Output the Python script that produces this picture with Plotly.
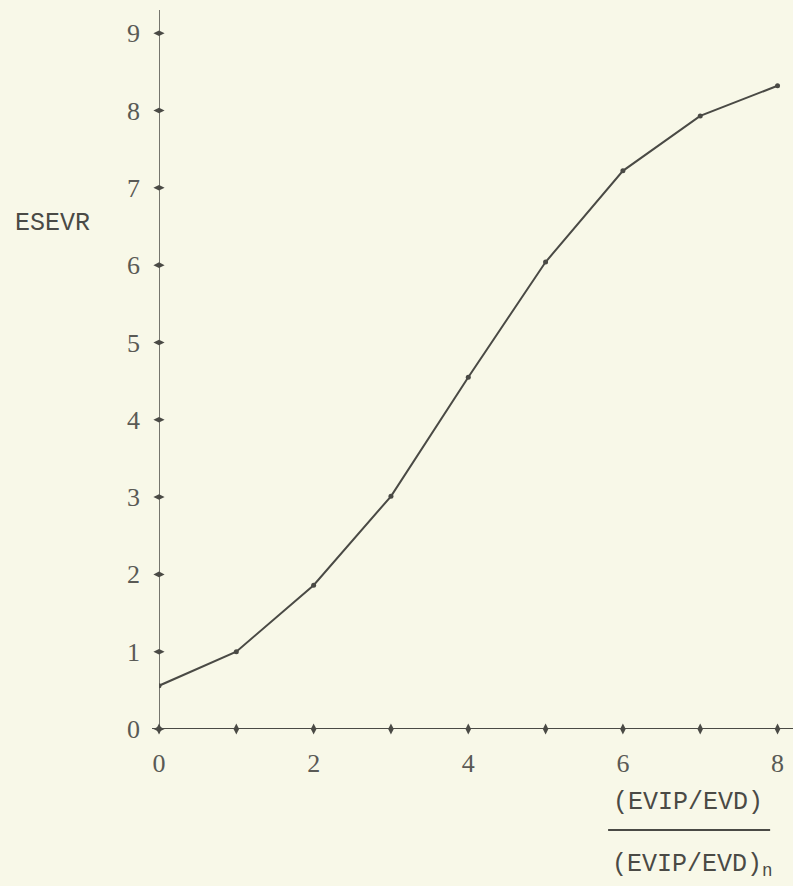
import plotly.graph_objects as go

x_vals = [0, 1, 2, 3, 4, 5, 6, 7, 8]
esevr = [0.56, 1.0, 1.86, 3.01, 4.55, 6.04, 7.22, 7.93, 8.32]
x_tick_marks = [0, 1, 2, 3, 4, 5, 6, 7, 8]
x_label_vals = [0, 2, 4, 6, 8]
x_label_text = ["0", "2", "4", "6", "8"]
y_ticks = [0, 1, 2, 3, 4, 5, 6, 7, 8, 9]
y_tick_text = [str(v) for v in y_ticks]

bg = "#f8f8e8"
ink = "#4a4a45"
tick_font = dict(family="Liberation Serif", size=26, color="#5a5a55")
label_font = dict(family="Liberation Mono", size=25, color="#4a4a45")

fig = go.Figure()
fig.add_trace(go.Scatter(
    x=x_vals, y=esevr, mode="lines+markers",
    line=dict(color=ink, width=2),
    marker=dict(color=ink, size=5),
    showlegend=False, hoverinfo="skip",
))

fig.update_layout(
    width=793, height=886,
    margin=dict(l=159, r=0, t=10, b=157),
    paper_bgcolor=bg, plot_bgcolor=bg,
    xaxis=dict(
        range=[0, 8.2], tickvals=x_label_vals, ticktext=x_label_text,
        showgrid=False, zeroline=False, showline=False,
        ticks="", tickfont=tick_font, ticklabelstandoff=16,
    ),
    yaxis=dict(
        range=[0, 9.3], tickvals=y_ticks, ticktext=y_tick_text,
        showgrid=False, zeroline=False, showline=False,
        ticks="", tickfont=tick_font, ticklabelstandoff=18,
    ),
)

# axis lines
fig.add_shape(type="line", xref="paper", yref="y", x0=-0.011, x1=1, y0=0, y1=0,
              line=dict(color=ink, width=2))
fig.add_shape(type="line", xref="x", yref="paper", x0=0, x1=0, y0=-0.006, y1=1,
              line=dict(color=ink, width=1.5))
# tick blobs on axes
fig.add_trace(go.Scatter(
    x=x_tick_marks, y=[0] * len(x_tick_marks), mode="markers",
    marker=dict(symbol="diamond-tall", color=ink, size=8),
    showlegend=False, hoverinfo="skip", cliponaxis=False,
))
fig.add_trace(go.Scatter(
    x=[0] * len(y_ticks), y=y_ticks, mode="markers",
    marker=dict(symbol="diamond-wide", color=ink, size=8),
    showlegend=False, hoverinfo="skip", cliponaxis=False,
))

fig.add_annotation(text="ESEVR", xref="paper", yref="paper",
                   x=-(159 - 52) / 634, y=(729 - 224) / 719, xanchor="center", yanchor="middle",
                   showarrow=False, font=label_font)
fig.add_annotation(text="(EVIP/EVD)", xref="x", yref="paper",
                   x=(688 - 159) / 77.3, y=-(802 - 729) / 719, xanchor="center", yanchor="middle",
                   showarrow=False, font=label_font)
fig.add_shape(type="line", xref="x", yref="paper",
              x0=(608 - 159) / 77.3, x1=(770 - 159) / 77.3,
              y0=-(830 - 729) / 719, y1=-(830 - 729) / 719,
              line=dict(color=ink, width=2))
fig.add_annotation(text="(EVIP/EVD)<sub>n</sub>", xref="x", yref="paper",
                   x=(610 - 159) / 77.3, y=-(865 - 729) / 719, xanchor="left", yanchor="middle",
                   showarrow=False, font=label_font)

fig.write_html("out.html")
